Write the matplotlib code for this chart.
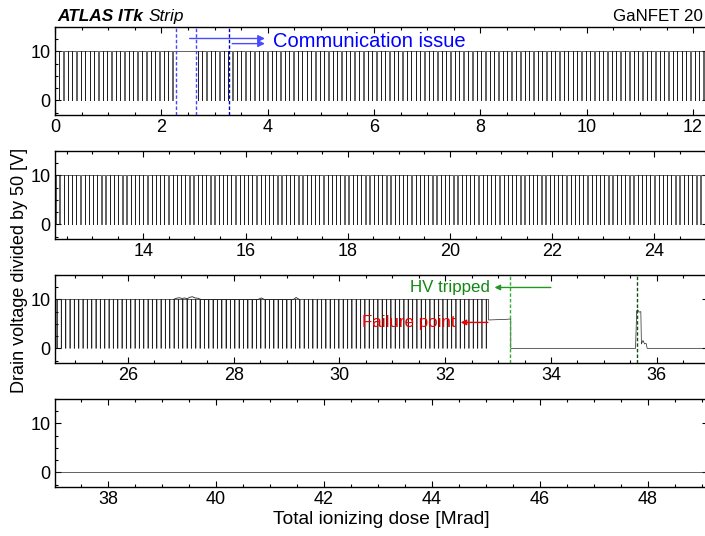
import numpy as np
import matplotlib
matplotlib.use("Agg")
import matplotlib.pyplot as plt
from matplotlib.ticker import MultipleLocator

plt.rcParams["font.family"] = ["Liberation Sans", "DejaVu Sans"]
plt.rcParams["font.size"] = 13

# dose window shown in each row [Mrad]
row_lims = [(0.0, 12.28), (12.27, 25.05), (24.62, 36.97), (37.02, 49.11)]

# drain voltage sits at 10 (500 V / 50) with short dips to 0 while cycling
dip_period = 0.082
dip_width = 0.006
dip_segments = [(0.075, 2.27), (2.68, 32.78)]

# small noise on top of the 10 V level (third row)
bump_x = [26.86, 26.92, 26.97, 27.02, 27.07, 27.12, 27.17, 27.22, 27.27, 27.32, 27.38,
          28.46, 28.52, 28.58, 29.13, 29.18, 29.24]
bump_y = [10.0, 10.25, 10.35, 10.2, 10.3, 10.15, 10.45, 10.55, 10.3, 10.25, 10.0,
          10.0, 10.3, 10.0, 10.0, 10.4, 10.0]

# after the failure: plateau, HV trip, one spike, then flat
tail_x = [32.82, 32.82, 33.00, 33.10, 33.22, 33.24, 33.24, 35.60, 35.62, 35.64,
          35.67, 35.70, 35.71, 35.74, 35.77, 35.80, 35.82, 49.2]
tail_y = [10.0, 5.8, 5.85, 5.9, 6.0, 6.0, 0.0, 0.0, 7.6, 7.9, 7.4, 7.5, 0.9, 1.6, 0.9, 1.0, 0.0, 0.0]

# markers
comm_lines = [2.27, 2.65, 3.28]
comm_colors = ["#4646ff", "#4646ff", "#0000c8"]
hv_trip = 33.23
spike_line = 35.62

# build the full trace
xs, ys = [0.0], [10.0]
for a, b in dip_segments:
    for d in np.arange(a, b, dip_period):
        xs += [d, d, d + dip_width, d + dip_width]
        ys += [10.0, 0.0, 0.0, 10.0]
xs += tail_x
ys += tail_y

fig = plt.figure(figsize=(7.05, 5.36), dpi=100)
W, H = 705.0, 536.0
tops = [27, 151, 275, 399]
axes = []
for i, top in enumerate(tops):
    ax = fig.add_axes([55 / W, 1 - (top + 88) / H, (708 - 55) / W, 88 / H])
    ax.plot(xs, ys, color="#222222", lw=0.5)
    if i == 2:
        ax.plot(bump_x, bump_y, color="#222222", lw=0.6)
    ax.set_xlim(*row_lims[i])
    ax.set_ylim(-3, 15)
    ax.xaxis.set_major_locator(MultipleLocator(2))
    ax.xaxis.set_minor_locator(MultipleLocator(0.5))
    ax.yaxis.set_major_locator(MultipleLocator(10))
    ax.yaxis.set_minor_locator(MultipleLocator(2.5))
    ax.tick_params(which="both", direction="in", top=True, right=True, width=0.8)
    ax.tick_params(which="major", length=4.5, pad=3)
    ax.tick_params(which="minor", length=2.2)
    for s in ax.spines.values():
        s.set_linewidth(1.0)
    axes.append(ax)

# communication issue (row 1)
ax = axes[0]
for x, c in zip(comm_lines, comm_colors):
    ax.axvline(x, color=c, ls=(0, (2.5, 1.5)), lw=1.0)
ax.annotate("", xy=(4.0, 12.65), xytext=(2.48, 12.65),
            arrowprops=dict(arrowstyle="-|>", color="#4a4aff", lw=1.0, mutation_scale=10))
ax.annotate("", xy=(4.0, 11.6), xytext=(3.28, 11.6),
            arrowprops=dict(arrowstyle="-|>", color="#4a4aff", lw=1.0, mutation_scale=10))
ax.text(4.1, 12.1, "Communication issue", color="#0000ff", va="center", ha="left",
        fontsize=14.5)

# HV trip and failure (row 3)
ax = axes[2]
ax.axvline(hv_trip, color="#33b033", ls=(0, (2.5, 1.5)), lw=1.0)
ax.axvline(spike_line, color="#0b4f0b", ls=(0, (2.5, 1.5)), lw=1.0)
ax.annotate("", xy=(32.88, 12.45), xytext=(34.05, 12.45),
            arrowprops=dict(arrowstyle="-|>", color="#1f9a1f", lw=1.0, mutation_scale=8))
ax.text(32.85, 12.45, "HV tripped", color="#118811", va="center", ha="right",
        fontsize=12.2)
ax.annotate("", xy=(32.24, 5.3), xytext=(32.86, 5.3),
            arrowprops=dict(arrowstyle="-|>", color="#ee0000", lw=1.0, mutation_scale=8))
ax.text(32.2, 5.3, "Failure point", color="#ee0000", va="center", ha="right",
        fontsize=12.2)

axes[3].set_xlabel("Total ionizing dose [Mrad]", labelpad=2, fontsize=13.8)
fig.text(20 / W, 1 - 270 / H, "Drain voltage divided by 50 [V]", rotation=90,
         va="center", ha="center")

fig.text(57 / W, 1 - 21 / H, "ATLAS ITk", fontweight="bold", fontstyle="italic",
         va="baseline", ha="left", fontsize=12.4)
fig.text(149 / W, 1 - 21 / H, "Strip", fontstyle="italic", va="baseline", ha="left",
         fontsize=12.4)
fig.text(703 / W, 1 - 21 / H, "GaNFET 20", va="baseline", ha="right", fontsize=12.2)

fig.savefig("out.png", dpi=100)
